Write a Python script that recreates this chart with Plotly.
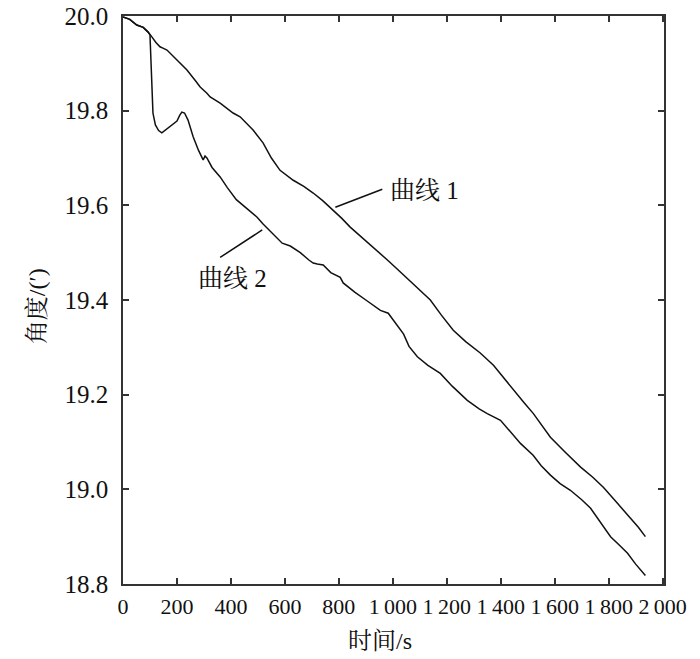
import plotly.graph_objects as go

# Curve 1 (time s, angle °)
t1 = [0, 25, 51, 75, 93, 100, 107, 122, 137, 148, 163, 200, 237, 270, 286, 311, 323, 360,
      408, 434, 471, 482, 519, 550, 582, 610, 631, 670, 705, 740, 779, 810, 842, 890, 942,
      985, 1028, 1080, 1139, 1180, 1224, 1270, 1324, 1373, 1410, 1447, 1485, 1521, 1550,
      1584, 1640, 1696, 1740, 1781, 1830, 1881, 1910, 1936]
a1 = [19.998, 19.993, 19.981, 19.976, 19.966, 19.962, 19.956, 19.944, 19.935, 19.932, 19.928,
      19.907, 19.886, 19.862, 19.850, 19.837, 19.829, 19.816, 19.795, 19.787, 19.765, 19.759,
      19.732, 19.700, 19.674, 19.662, 19.653, 19.640, 19.626, 19.610, 19.590, 19.573, 19.554,
      19.530, 19.505, 19.482, 19.459, 19.432, 19.400, 19.368, 19.336, 19.312, 19.288, 19.262,
      19.236, 19.209, 19.184, 19.160, 19.138, 19.110, 19.078, 19.047, 19.026, 19.004, 18.972,
      18.940, 18.920, 18.900]

# Curve 2
t2 = [0, 25, 51, 75, 93, 100, 104, 108, 111, 120, 132, 144, 160, 180, 200, 210, 218, 228, 241,
      260, 280, 297, 304, 311, 330, 360, 386, 420, 460, 497, 520, 550, 590, 620, 657, 690, 705,
      720, 742, 770, 805, 816, 860, 900, 954, 983, 1010, 1040, 1060, 1091, 1130, 1176, 1220,
      1276, 1320, 1350, 1399, 1440, 1473, 1520, 1550, 1584, 1620, 1658, 1700, 1733, 1770, 1807,
      1840, 1870, 1900, 1936]
a2 = [19.998, 19.993, 19.981, 19.976, 19.966, 19.960, 19.900, 19.840, 19.795, 19.770, 19.758,
      19.753, 19.760, 19.768, 19.778, 19.790, 19.797, 19.795, 19.780, 19.745, 19.716, 19.696,
      19.704, 19.700, 19.680, 19.660, 19.638, 19.612, 19.592, 19.575, 19.560, 19.543, 19.520,
      19.514, 19.500, 19.484, 19.478, 19.476, 19.474, 19.458, 19.448, 19.436, 19.416, 19.400,
      19.378, 19.372, 19.352, 19.328, 19.302, 19.280, 19.262, 19.245, 19.218, 19.188, 19.170,
      19.160, 19.146, 19.120, 19.097, 19.072, 19.050, 19.030, 19.012, 18.998, 18.978, 18.960,
      18.930, 18.900, 18.882, 18.865, 18.842, 18.818]

x_ticks = [0, 200, 400, 600, 800, 1000, 1200, 1400, 1600, 1800, 2000]
x_tick_labels = ["0", "200", "400", "600", "800", "1\u2009000", "1\u2009200", "1\u2009400",
                 "1\u2009600", "1\u2009800", "2\u2009000"]
y_ticks = [18.8, 19.0, 19.2, 19.4, 19.6, 19.8, 20.0]
y_tick_labels = ["18.8", "19.0", "19.2", "19.4", "19.6", "19.8", "20.0"]

FONT = "Liberation Serif, Noto Serif CJK SC, Noto Sans CJK SC, serif"
INK = "#111111"

fig = go.Figure()
fig.add_trace(go.Scatter(x=t1, y=a1, mode="lines", line=dict(color=INK, width=1.5),
                         showlegend=False, hoverinfo="skip"))
fig.add_trace(go.Scatter(x=t2, y=a2, mode="lines", line=dict(color=INK, width=1.5),
                         showlegend=False, hoverinfo="skip"))

# leader lines and labels
fig.add_shape(type="line", xref="x", yref="y", x0=787, y0=19.596, x1=961, y1=19.634,
              line=dict(color=INK, width=1.5))
fig.add_shape(type="line", xref="x", yref="y", x0=360, y0=19.490, x1=516, y1=19.548,
              line=dict(color=INK, width=1.5))
fig.add_annotation(x=1117, y=19.632, xref="x", yref="y", text="曲线 1", showarrow=False,
                   xanchor="center", yanchor="middle",
                   font=dict(family=FONT, size=25, color=INK))
fig.add_annotation(x=404, y=19.446, xref="x", yref="y", text="曲线 2", showarrow=False,
                   xanchor="center", yanchor="middle",
                   font=dict(family=FONT, size=25, color=INK))

# axis titles
fig.add_annotation(x=-0.159, y=0.489, xref="paper", yref="paper", text="角度/(′)",
                   showarrow=False, textangle=-90, xanchor="center", yanchor="middle",
                   font=dict(family=FONT, size=24, color=INK))
fig.add_annotation(x=0.475, y=-0.1004, xref="paper", yref="paper", text="时间/s",
                   showarrow=False, xanchor="center", yanchor="middle",
                   font=dict(family=FONT, size=24, color=INK))

axis_common = dict(showline=True, linecolor="#333333", linewidth=1.5, mirror="ticks",
                   ticks="inside", ticklen=6, tickwidth=1.5, tickcolor="#333333",
                   showgrid=False, zeroline=False, automargin=False)

fig.update_xaxes(range=[0, 2005], tickvals=x_ticks, ticktext=x_tick_labels,
                 tickangle=0, ticklabelstandoff=2,
                 tickfont=dict(family=FONT, size=22, color=INK), **axis_common)
fig.update_yaxes(range=[18.8, 20.0], tickvals=y_ticks, ticktext=y_tick_labels,
                 ticklabelstandoff=8,
                 tickfont=dict(family=FONT, size=25, color=INK), **axis_common)

fig.update_layout(width=700, height=659, margin=dict(l=123, r=36, t=16, b=75),
                  plot_bgcolor="white", paper_bgcolor="white",
                  font=dict(family=FONT, color=INK))

fig.write_html("out.html", config={"displayModeBar": False},
               post_script="document.body.style.margin='0';document.body.style.overflow='hidden';")
